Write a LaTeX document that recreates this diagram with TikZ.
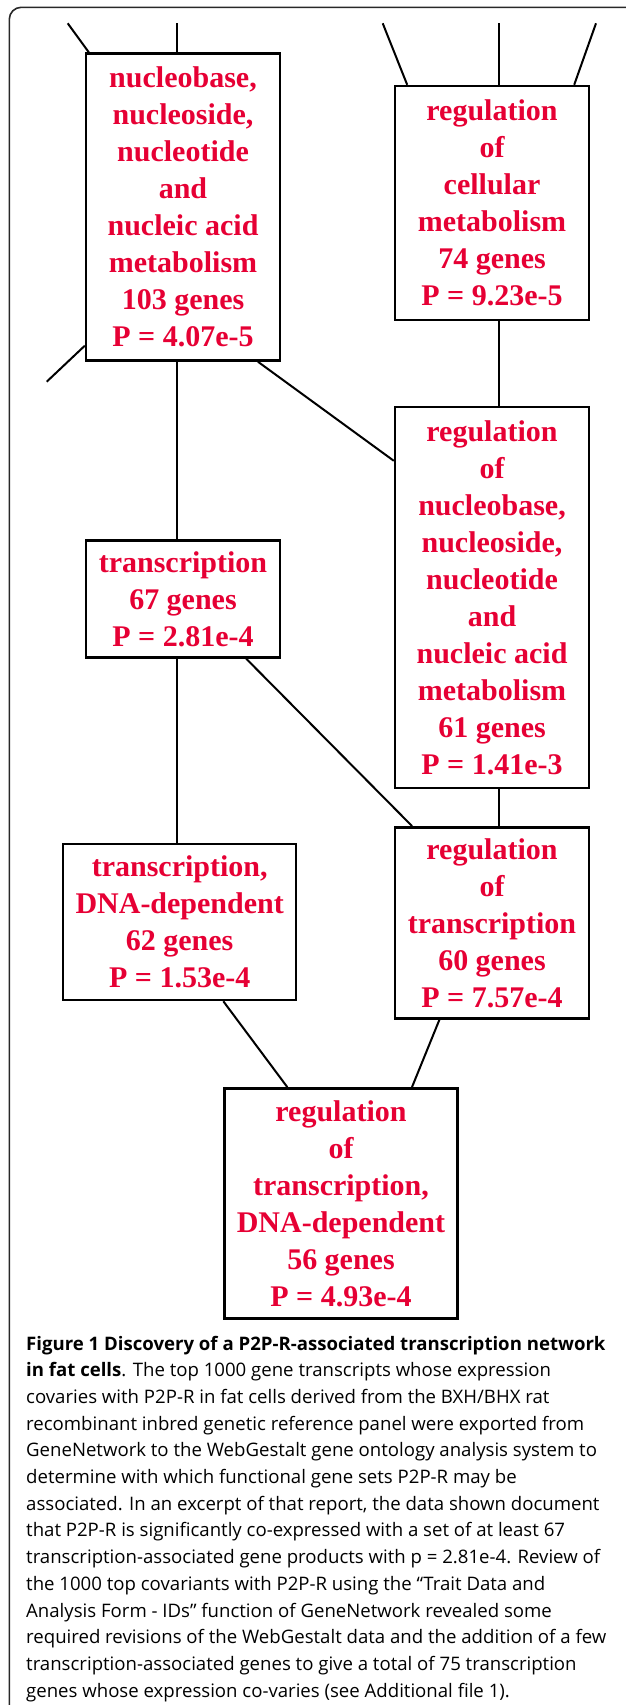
\documentclass[tikz,border=0pt]{standalone}
\usepackage{fontspec}
\usepackage{xcolor}
\usetikzlibrary{positioning, calc}

\newfontfamily\boxfont{Liberation Serif}
\newfontfamily\capfont{Open Sans}
\definecolor{gored}{RGB}{230,0,52}
\definecolor{framegray}{RGB}{40,40,40}

\tikzset{
  gobox/.style={draw, line width=2.4pt, align=center, text=gored, inner sep=0pt,
    font=\boxfont\bfseries\fontsize{30}{37}\selectfont},
  link/.style={line width=2pt},
  capline/.style={anchor=base west, inner sep=0pt, font=\capfont\fontsize{18.6}{26.7}\selectfont},
}

\begin{document}
\begin{tikzpicture}[x=1pt, y=-1pt]
    \useasboundingbox (0,0) rectangle (625,1705);
    % frame of the figure
    \draw[framegray, line width=1.6pt, rounded corners=12pt] (640,7.3) -- (9.3,7.3) -- (9.3,1720);

    % GO boxes
    \node[gobox, minimum width=194pt, minimum height=307pt] (nucmet) at (183,207)
        {nucleobase,\\nucleoside,\\nucleotide\\and\\nucleic acid\\metabolism\\103 genes\\P = 4.07e-5};
    \node[gobox, minimum width=194pt, minimum height=234pt] (cellmet) at (492,203)
        {regulation\\of\\cellular\\metabolism\\74 genes\\P = 9.23e-5};
    \node[gobox, minimum width=194pt, minimum height=381pt] (regnuc) at (492,597.5)
        {regulation\\of\\nucleobase,\\nucleoside,\\nucleotide\\and\\nucleic acid\\metabolism\\61 genes\\P = 1.41e-3};
    \node[gobox, minimum width=194pt, minimum height=117pt] (trans) at (183,599)
        {transcription\\67 genes\\P = 2.81e-4};
    \node[gobox, minimum width=233pt, minimum height=156pt] (transdna) at (179.7,922)
        {transcription,\\DNA-dependent\\62 genes\\P = 1.53e-4};
    \node[gobox, minimum width=194pt, minimum height=191pt] (regtrans) at (492,922.8)
        {regulation\\of\\transcription\\60 genes\\P = 7.57e-4};
    \node[gobox, minimum width=233pt, minimum height=230pt] (regdna) at (341,1203.3)
        {regulation\\of\\transcription,\\DNA-dependent\\56 genes\\P = 4.93e-4};

    % loose ends of the excerpt
    \coordinate (up1) at (67.7,23.3);
    \coordinate (up2) at (176.7,23.3);
    \coordinate (low1) at (46.7,381.7);
    \coordinate (up3) at (382.7,23.3);
    \coordinate (up4) at (499.3,23.3);
    \coordinate (up5) at (596,23.3);

    \draw[link] (up1) -- ([xshift=4pt]nucmet.north west);
    \draw[link] (up2) -- ([xshift=-6.3pt]nucmet.north);
    \draw[link] ([yshift=16pt]nucmet.south west) -- (low1);
    \draw[link] (up3) -- ([xshift=13.4pt]cellmet.north west);
    \draw[link] (up4) -- ([xshift=7.3pt]cellmet.north);
    \draw[link] (up5) -- ([xshift=-16pt]cellmet.north east);

    % edges between the boxes
    \draw[link] ([xshift=-6.3pt]nucmet.south) -- ([xshift=-6.3pt]trans.north);
    \draw[link] ([xshift=-23.3pt]nucmet.south east) -- ([yshift=-55pt]regnuc.north west);
    \draw[link] ([xshift=7.3pt]cellmet.south) -- ([xshift=7.3pt]regnuc.north);
    \draw[link] ([xshift=-6.3pt]trans.south) -- ([xshift=-3pt]transdna.north);
    \draw[link] ([xshift=-35pt]trans.south east) -- ([xshift=18.3pt]regtrans.north west);
    \draw[link] ([xshift=7.3pt]regnuc.south) -- ([xshift=7.3pt]regtrans.north);
    \draw[link] ([xshift=43.6pt]transdna.south) -- ([xshift=64pt]regdna.north west);
    \draw[link] ([xshift=45.7pt]regtrans.south west) -- ([xshift=-46.7pt]regdna.north east);

    % caption
    \foreach \ln [count=\i] in {
        {\textbf{Figure 1 Discovery of a P2P-R-associated transcription network}},
        {\textbf{in fat cells}. The top 1000 gene transcripts whose expression},
        {covaries with P2P-R in fat cells derived from the BXH/BHX rat},
        {recombinant inbred genetic reference panel were exported from},
        {GeneNetwork to the WebGestalt gene ontology analysis system to},
        {determine with which functional gene sets P2P-R may be},
        {associated. In an excerpt of that report, the data shown document},
        {that P2P-R is significantly co-expressed with a set of at least 67},
        {transcription-associated gene products with p = 2.81e-4. Review of},
        {the 1000 top covariants with P2P-R using the “Trait Data and},
        {Analysis Form - IDs” function of GeneNetwork revealed some},
        {required revisions of the WebGestalt data and the addition of a few},
        {transcription-associated genes to give a total of 75 transcription},
        {genes whose expression co-varies (see Additional file 1).}}
      \node[capline] (cap\i) at (26,{1350+(\i-1)*26.7}) {\ln};
\end{tikzpicture}
\end{document}
